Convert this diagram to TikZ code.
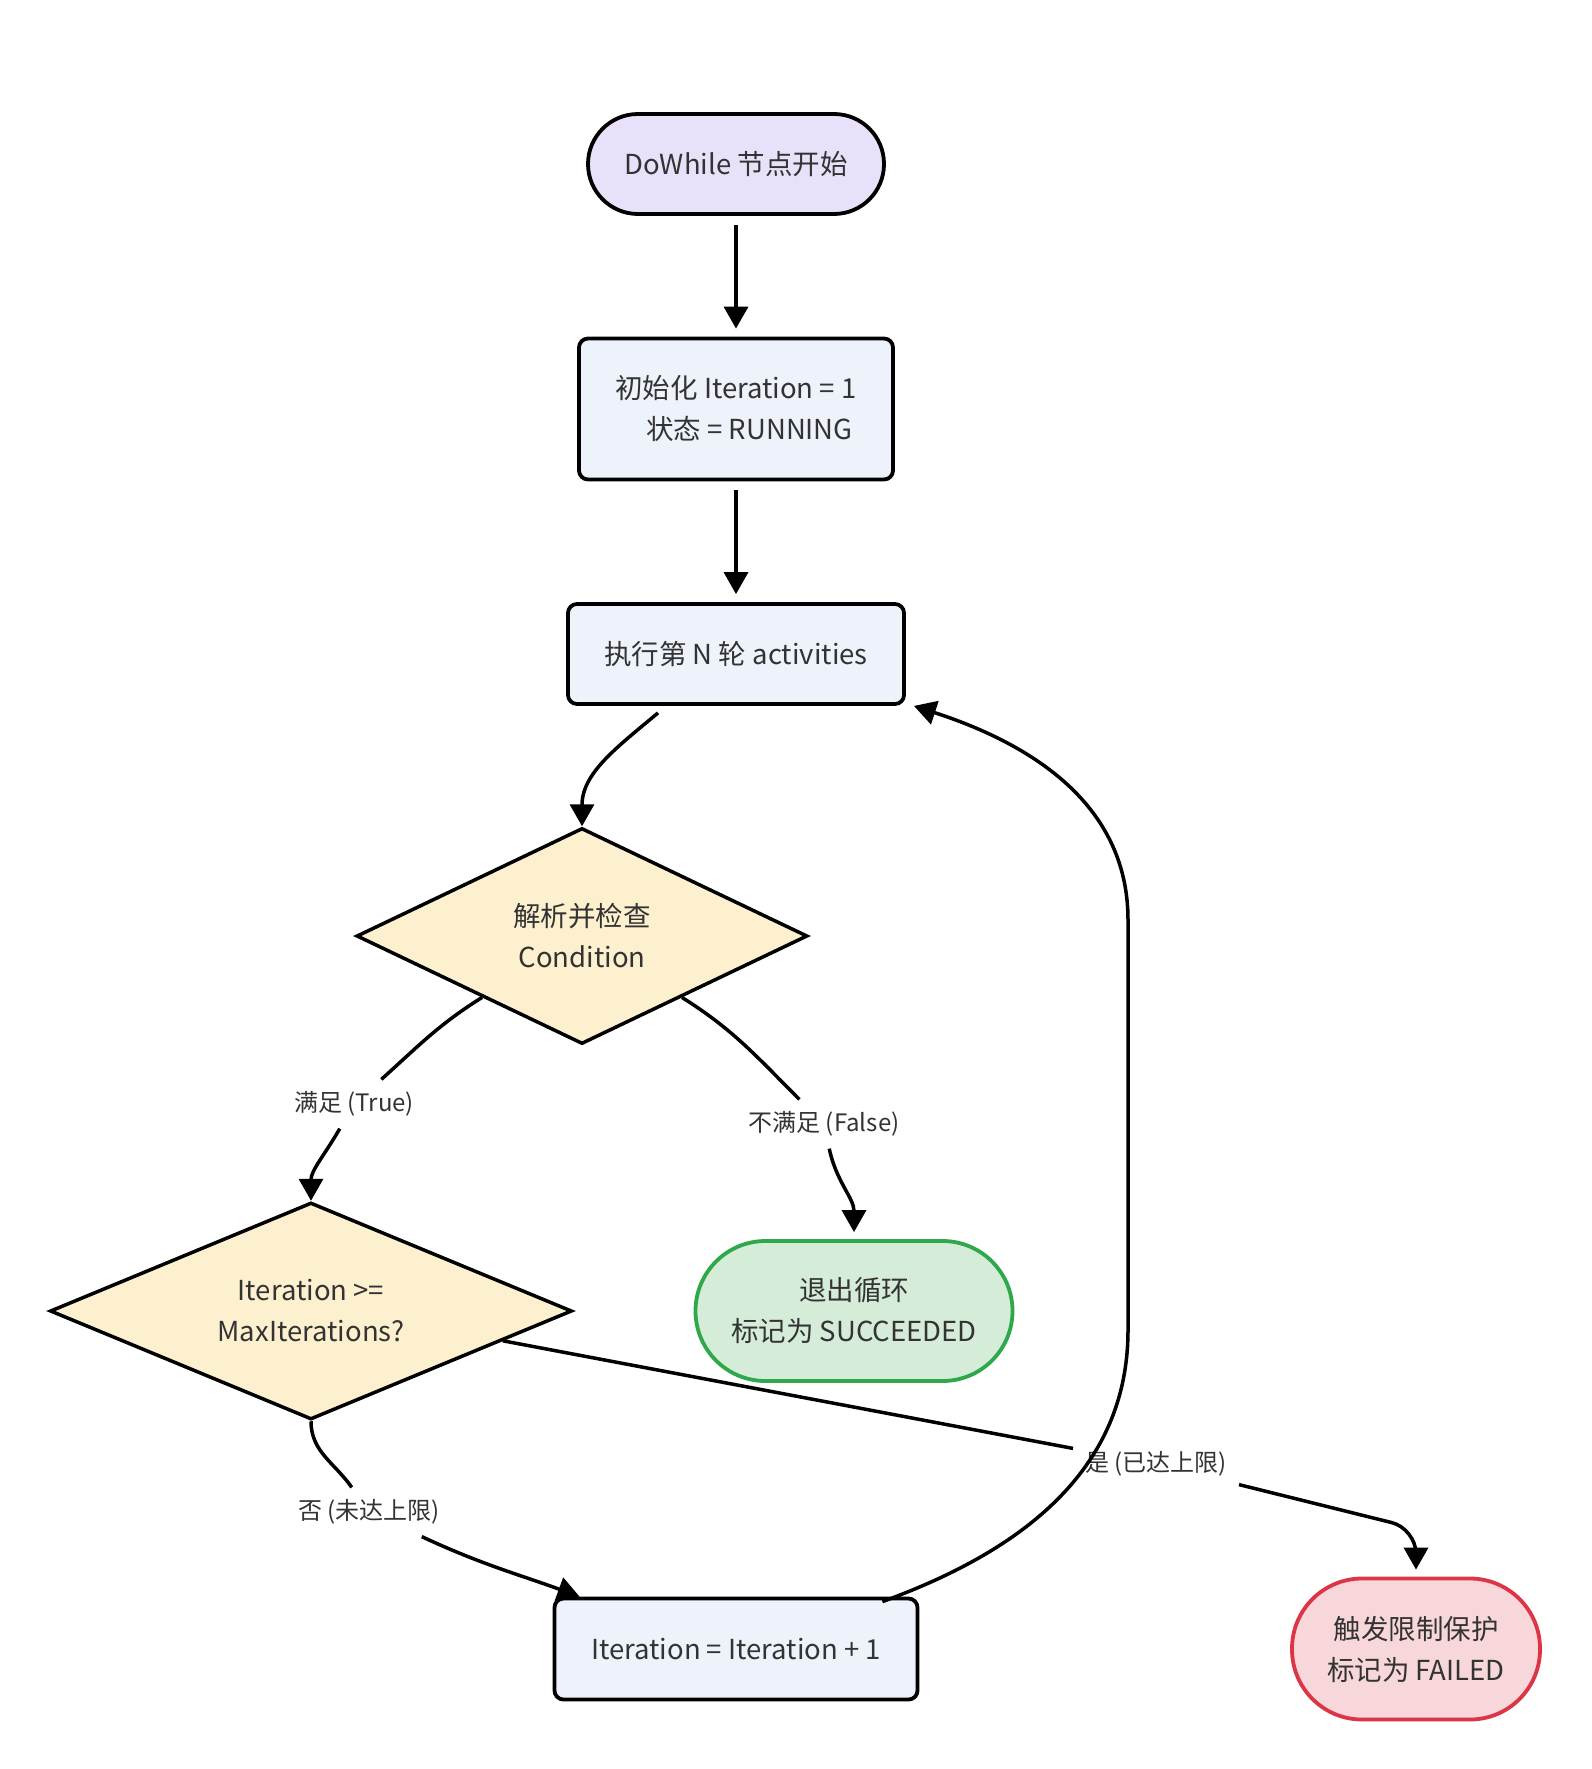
\documentclass[tikz,border=0pt]{standalone}
\usepackage{fontspec}
\setmainfont{Noto Sans CJK SC}
\usetikzlibrary{positioning,arrows.meta,calc,shapes.geometric}
\definecolor{StartPurple}{HTML}{E9E1FA}
\definecolor{BoxBlue}{HTML}{EEF2FB}
\definecolor{DecisionYellow}{HTML}{FDF0CF}
\definecolor{DoneGreenFill}{HTML}{D5ECD9}
\definecolor{DoneGreen}{HTML}{2EA84A}
\definecolor{FailRedFill}{HTML}{F7D7DA}
\definecolor{FailRed}{HTML}{DC3545}
\definecolor{TextGray}{HTML}{333333}
\newcommand{\flowfont}{\fontsize{27.5pt}{41pt}\selectfont}
\newcommand{\edgefont}{\fontsize{24pt}{28pt}\selectfont}

\begin{document}
\begin{tikzpicture}[x=1pt,y=-1pt,
		box/.style={draw,line width=3.8pt,rounded corners=9pt,fill=BoxBlue,align=center,text=TextGray,font=\flowfont,inner sep=0pt},
		term/.style={draw,line width=3.8pt,align=center,text=TextGray,font=\flowfont,inner sep=0pt},
		decision/.style={diamond,draw,line width=3.5pt,fill=DecisionYellow,align=center,text=TextGray,font=\flowfont,inner sep=0pt},
		link/.style={line width=3.5pt},
		arr/.style={link,-{Triangle[length=22pt,width=24pt]}},
		lbl/.style={text=TextGray,font=\edgefont,inner sep=12pt}]
	\useasboundingbox[fill=white] (0,0) rectangle (1591,1769);
	% nodes
	\node[term,fill=StartPurple,rounded corners=50pt,minimum width=296pt,minimum height=100pt] (start) at (736,164) {DoWhile 节点开始};
	\node[box,minimum width=314pt,minimum height=141pt] (init) at (736,409) {初始化 Iteration = 1\\ \hspace*{27pt}状态 = RUNNING};
	\node[box,minimum width=336pt,minimum height=100pt] (exec) at (736,654) {执行第 N 轮 activities};
	\node[decision,shape aspect=2.1,minimum width=451pt,minimum height=216pt] (cond) at (582,936) {解析并检查\\Condition};
	\node[decision,shape aspect=2.4,minimum width=522pt,minimum height=217pt] (limit) at (311,1311) {Iteration >=\\MaxIterations?};
	\node[term,fill=DoneGreenFill,draw=DoneGreen,rounded corners=70pt,minimum width=317pt,minimum height=140pt] (done) at (854,1311) {退出循环\\标记为 SUCCEEDED};
	\node[box,minimum width=363pt,minimum height=101pt] (inc) at (736,1649) {Iteration = Iteration + 1};
	\node[term,fill=FailRedFill,draw=FailRed,rounded corners=70pt,minimum width=248pt,minimum height=141pt] (fail) at (1416,1649) {触发限制保护\\标记为 FAILED};
	% edge labels
	\node[lbl] (ltrue) at (354,1104) {满足 (True)};
	\node[lbl] (lfalse) at (824,1124) {不满足 (False)};
	\node[lbl] (lno) at (369,1512) {否 (未达上限)};
	\node[lbl] (lyes) at (1156,1464) {是 (已达上限)};
	\coordinate (loopA) at (1128,920);
	\coordinate (loopB) at (1128,1330);
	% edges
	\draw[arr,shorten <=9pt,shorten >=8pt] (start) -- (init);
	\draw[arr,shorten <=9pt,shorten >=8pt] (init) -- (exec);
	\draw[arr] ([xshift=-78pt,yshift=-7pt]exec.south) to[out=-140,in=90] (cond.north);
	\draw[link] ($(cond.west)!0.56!(cond.south)$) to[out=-148,in=42] (ltrue);
	\draw[arr] (ltrue) to[out=-120,in=90] (limit.north);
	\draw[link] ($(cond.east)!0.56!(cond.south)$) to[out=-32,in=135] (lfalse);
	\draw[arr] (lfalse) to[out=-78,in=90] ([yshift=7pt]done.north);
	\draw[link] (limit.south) to[out=-90,in=125] (lno);
	\draw[arr] (lno) to[out=-25,in=160] ([xshift=27pt]inc.north west);
	\draw[link] ($(limit.east)!0.27!(limit.south)$) -- (lyes);
	\draw[arr,rounded corners=25pt] (lyes) -- ([yshift=48pt]fail.north) -- ([yshift=7pt]fail.north);
	\draw[arr] ([xshift=-37pt,yshift=-5pt]inc.north east) to[out=20,in=-90] (loopB) -- (loopA) to[out=90,in=-18] ([xshift=8pt]exec.south east);
\end{tikzpicture}
\end{document}
